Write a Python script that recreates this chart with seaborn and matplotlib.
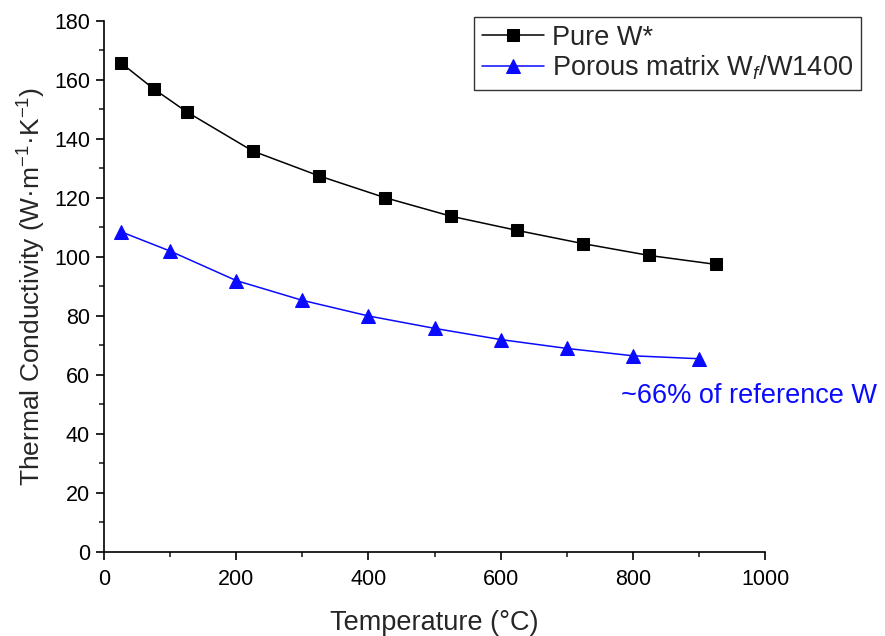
import matplotlib
matplotlib.use("Agg")
import matplotlib.pyplot as plt
import seaborn as sns
import pandas as pd
from matplotlib.ticker import MultipleLocator

sns.set_theme(style="ticks")
plt.rcParams['font.family'] = ['Liberation Sans', 'DejaVu Sans']
plt.rcParams['mathtext.fontset'] = 'custom'
plt.rcParams['mathtext.rm'] = 'Liberation Sans'
plt.rcParams['mathtext.it'] = 'Liberation Sans:italic'
plt.rcParams['mathtext.default'] = 'regular'

pure_T = [25, 75, 125, 225, 325, 425, 525, 625, 725, 825, 925]
pure_k = [165.9, 157.0, 149.2, 135.9, 127.5, 120.1, 113.8, 109.0, 104.5, 100.5, 97.5]
por_T = [25, 100, 200, 300, 400, 500, 600, 700, 800, 900]
por_k = [108.6, 102.0, 92.0, 85.3, 80.0, 75.8, 72.0, 69.0, 66.5, 65.5]
label_pure = "Pure W*"
label_por = "Porous matrix W$_{\\mathit{f}}$/W1400"

df_pure = pd.DataFrame({"T": pure_T, "k": pure_k})
df_por = pd.DataFrame({"T": por_T, "k": por_k})

blue = "#0a0aff"

fig = plt.figure(figsize=(8.85, 6.36), dpi=100)
ax = fig.add_axes([0.1175, 0.1321, 0.747, 0.835])

sns.lineplot(data=df_pure, x="T", y="k", ax=ax, color="black", marker="s",
             markersize=8, markeredgecolor="black", linewidth=1.1, label=label_pure)
sns.lineplot(data=df_por, x="T", y="k", ax=ax, color=blue, marker="^",
             markersize=10.5, markeredgecolor=blue, linewidth=1.1, label=label_por)

ax.set_xlim(0, 1000)
ax.set_ylim(0, 180)
ax.xaxis.set_major_locator(MultipleLocator(200))
ax.xaxis.set_minor_locator(MultipleLocator(100))
ax.yaxis.set_major_locator(MultipleLocator(20))
ax.yaxis.set_minor_locator(MultipleLocator(10))
ax.tick_params(which='major', direction='out', length=6, width=1.2, labelsize=15.5, colors='black', pad=4)
ax.tick_params(axis='x', which='major', pad=6)
ax.tick_params(which='minor', direction='out', length=3.5, width=1.2)
for s in ['top', 'right']:
    ax.spines[s].set_visible(False)
for s in ['left', 'bottom']:
    ax.spines[s].set_linewidth(1.2)
    ax.spines[s].set_color('black')

ax.set_xlabel("Temperature (°C)", fontsize=19.5, labelpad=15)
ax.set_ylabel("Thermal Conductivity (W·m$^{-1}$·K$^{-1}$)", fontsize=19, labelpad=4)

ax.text(976, 53, "~66% of reference W", color=blue, fontsize=19.5,
        ha="center", va="center", clip_on=False)

leg = ax.legend(loc="upper right", bbox_to_anchor=(1.145, 1.0075), fontsize=19.5,
                frameon=True, fancybox=False, edgecolor="black", handlelength=2.3,
                handletextpad=0.3, borderpad=0.28, labelspacing=0.12, borderaxespad=0)
leg.get_frame().set_linewidth(1.0)

fig.savefig("out.png", dpi=100)
